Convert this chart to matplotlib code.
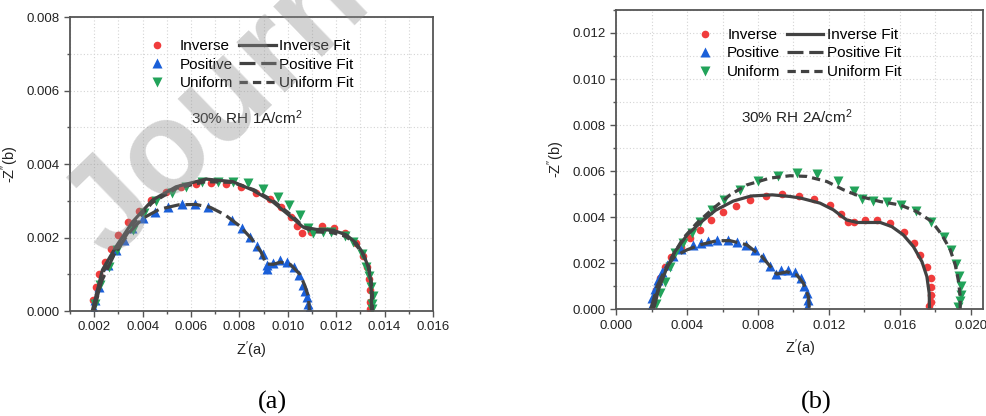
import matplotlib
matplotlib.use("Agg")
import matplotlib.pyplot as plt
from matplotlib.ticker import MultipleLocator, FormatStrFormatter

plt.rcParams["font.family"] = ["Liberation Sans", "DejaVu Sans"]
plt.rcParams["mathtext.fontset"] = "custom"
plt.rcParams["mathtext.rm"] = "Liberation Sans"
plt.rcParams["mathtext.it"] = "Liberation Sans:italic"

# ---- (a) 30% RH, 1 A/cm2 ----
inv_a_x = [0.00197, 0.00207, 0.00221, 0.00244, 0.00269, 0.00297, 0.00338, 0.00387,
           0.00435, 0.00497, 0.00559, 0.00621, 0.00683, 0.00745, 0.00807, 0.00869,
           0.00925, 0.00973, 0.01014, 0.01039, 0.01060, 0.01097, 0.01143, 0.01189,
           0.01237, 0.01281, 0.01311, 0.01329, 0.01336, 0.01339, 0.01341, 0.01341]
inv_a_y = [0.00031, 0.00065, 0.00102, 0.00134, 0.00170, 0.00206, 0.00243, 0.00273,
           0.00302, 0.00325, 0.00338, 0.00345, 0.00347, 0.00345, 0.00338, 0.00322,
           0.00304, 0.00282, 0.00256, 0.00231, 0.00213, 0.00216, 0.00231, 0.00227,
           0.00212, 0.00185, 0.00150, 0.00120, 0.00088, 0.00056, 0.00025, 0.00006]

pos_a_x = [0.00198, 0.00205, 0.00221, 0.00255, 0.00290, 0.00324, 0.00355, 0.00400,
           0.00450, 0.00505, 0.00561, 0.00617, 0.00671, 0.00768, 0.00810, 0.00845,
           0.00874, 0.00897, 0.00913, 0.00916, 0.00938, 0.00966, 0.00996, 0.01024,
           0.01046, 0.01063, 0.01072, 0.01079, 0.01083, 0.01086]
pos_a_y = [0.00005, 0.00030, 0.00066, 0.00125, 0.00167, 0.00193, 0.00225, 0.00252,
           0.00270, 0.00284, 0.00290, 0.00290, 0.00283, 0.00248, 0.00226, 0.00202,
           0.00176, 0.00154, 0.00125, 0.00113, 0.00130, 0.00139, 0.00134, 0.00121,
           0.00098, 0.00071, 0.00055, 0.00039, 0.00020, 0.00005]

uni_a_x = [0.00205, 0.00225, 0.00260, 0.00296, 0.00360, 0.00407, 0.00455, 0.00520,
           0.00580, 0.00645, 0.00710, 0.00773, 0.00835, 0.00897, 0.00959, 0.01005,
           0.01049, 0.01083, 0.01104, 0.01146, 0.01180, 0.01235, 0.01270, 0.01305,
           0.01322, 0.01336, 0.01346, 0.01353, 0.01350, 0.01350]
uni_a_y = [0.00020, 0.00070, 0.00120, 0.00166, 0.00220, 0.00268, 0.00298, 0.00322,
           0.00338, 0.00350, 0.00352, 0.00352, 0.00348, 0.00332, 0.00311, 0.00288,
           0.00261, 0.00225, 0.00211, 0.00215, 0.00215, 0.00205, 0.00188, 0.00155,
           0.00120, 0.00095, 0.00066, 0.00040, 0.00018, 0.00005]

inv_fit_a_x = [0.00193, 0.00234, 0.00290, 0.00359, 0.00441, 0.00538, 0.00662, 0.00773,
               0.00855, 0.00938, 0.01021, 0.01062, 0.01118, 0.01187, 0.01242, 0.01284,
               0.01311, 0.01332, 0.01342, 0.01346, 0.01346]
inv_fit_a_y = [0.00003, 0.00112, 0.00175, 0.00243, 0.00302, 0.00338, 0.00359, 0.00352,
               0.00329, 0.00297, 0.00252, 0.00229, 0.00222, 0.00220, 0.00207, 0.00184,
               0.00157, 0.00121, 0.00085, 0.00049, 0.00000]

pos_fit_a_x = [0.00198, 0.00230, 0.00280, 0.00340, 0.00400, 0.00470, 0.00550, 0.00620,
               0.00680, 0.00740, 0.00800, 0.00850, 0.00890, 0.00910, 0.00940, 0.00970,
               0.01010, 0.01050, 0.01070, 0.01085, 0.01090]
pos_fit_a_y = [0.00000, 0.00080, 0.00150, 0.00210, 0.00252, 0.00277, 0.00289, 0.00290,
               0.00282, 0.00262, 0.00232, 0.00197, 0.00160, 0.00128, 0.00127, 0.00133,
               0.00127, 0.00100, 0.00070, 0.00040, 0.00000]

uni_fit_a_x = [0.00198, 0.00240, 0.00300, 0.00360, 0.00440, 0.00540, 0.00660, 0.00770,
               0.00860, 0.00940, 0.01020, 0.01070, 0.01120, 0.01180, 0.01240, 0.01280,
               0.01310, 0.01335, 0.01345, 0.01350, 0.01350]
uni_fit_a_y = [0.00000, 0.00110, 0.00172, 0.00235, 0.00295, 0.00334, 0.00352, 0.00350,
               0.00330, 0.00300, 0.00258, 0.00226, 0.00215, 0.00214, 0.00203, 0.00182,
               0.00155, 0.00120, 0.00080, 0.00040, 0.00000]

# ---- (b) 30% RH, 2 A/cm2 ----
inv_b_x = [0.00211, 0.00226, 0.00248, 0.00273, 0.00310, 0.00367, 0.00418, 0.00471,
           0.00536, 0.00602, 0.00678, 0.00757, 0.00843, 0.00937, 0.01031, 0.01114,
           0.01205, 0.01270, 0.01307, 0.01340, 0.01403, 0.01470, 0.01545, 0.01622,
           0.01678, 0.01716, 0.01752, 0.01775, 0.01777, 0.01778, 0.01774, 0.01764]
inv_b_y = [0.00033, 0.00084, 0.00135, 0.00185, 0.00229, 0.00272, 0.00309, 0.00345,
           0.00388, 0.00422, 0.00449, 0.00475, 0.00490, 0.00500, 0.00494, 0.00480,
           0.00454, 0.00412, 0.00381, 0.00378, 0.00388, 0.00388, 0.00374, 0.00336,
           0.00287, 0.00236, 0.00182, 0.00135, 0.00095, 0.00061, 0.00033, 0.00015]

pos_b_x = [0.00198, 0.00203, 0.00216, 0.00235, 0.00260, 0.00286, 0.00320, 0.00367,
           0.00430, 0.00480, 0.00520, 0.00570, 0.00630, 0.00680, 0.00730, 0.00780,
           0.00830, 0.00870, 0.00900, 0.00930, 0.00970, 0.01010, 0.01040, 0.01060,
           0.01075, 0.01080, 0.01075]
pos_b_y = [0.00012, 0.00048, 0.00087, 0.00128, 0.00164, 0.00193, 0.00232, 0.00262,
           0.00278, 0.00290, 0.00295, 0.00300, 0.00299, 0.00292, 0.00278, 0.00258,
           0.00226, 0.00188, 0.00155, 0.00172, 0.00172, 0.00160, 0.00135, 0.00099,
           0.00070, 0.00041, 0.00012]

uni_b_x = [0.00226, 0.00245, 0.00273, 0.00301, 0.00329, 0.00376, 0.00429, 0.00473,
           0.00539, 0.00608, 0.00700, 0.00800, 0.00913, 0.01020, 0.01135, 0.01252,
           0.01340, 0.01389, 0.01449, 0.01528, 0.01609, 0.01694, 0.01775, 0.01848,
           0.01890, 0.01916, 0.01936, 0.01944, 0.01946, 0.01938, 0.01928]
uni_b_y = [0.00023, 0.00070, 0.00120, 0.00185, 0.00243, 0.00287, 0.00330, 0.00381,
           0.00432, 0.00475, 0.00519, 0.00555, 0.00581, 0.00591, 0.00586, 0.00556,
           0.00512, 0.00477, 0.00469, 0.00464, 0.00453, 0.00426, 0.00378, 0.00316,
           0.00258, 0.00196, 0.00143, 0.00100, 0.00064, 0.00034, 0.00009]

inv_fit_b_x = [0.00210, 0.00240, 0.00280, 0.00330, 0.00400, 0.00480, 0.00560, 0.00660,
               0.00760, 0.00880, 0.00980, 0.01040, 0.01150, 0.01225, 0.01300, 0.01360,
               0.01490, 0.01555, 0.01620, 0.01677, 0.01725, 0.01753, 0.01766, 0.01768]
inv_fit_b_y = [0.00000, 0.00090, 0.00170, 0.00250, 0.00323, 0.00380, 0.00430, 0.00470,
               0.00492, 0.00497, 0.00490, 0.00483, 0.00461, 0.00432, 0.00388, 0.00377,
               0.00377, 0.00359, 0.00323, 0.00272, 0.00207, 0.00142, 0.00070, 0.00000]

pos_fit_b_x = [0.00195, 0.00230, 0.00280, 0.00330, 0.00398, 0.00473, 0.00567, 0.00642,
               0.00736, 0.00821, 0.00878, 0.00906, 0.00962, 0.01019, 0.01056, 0.01084,
               0.01090]
pos_fit_b_y = [0.00000, 0.00100, 0.00180, 0.00230, 0.00258, 0.00280, 0.00298, 0.00298,
               0.00280, 0.00229, 0.00178, 0.00153, 0.00163, 0.00149, 0.00113, 0.00055,
               0.00000]

uni_fit_b_x = [0.00200, 0.00247, 0.00303, 0.00378, 0.00454, 0.00548, 0.00642, 0.00736,
               0.00868, 0.00981, 0.01075, 0.01188, 0.01282, 0.01376, 0.01489, 0.01602,
               0.01696, 0.01781, 0.01838, 0.01885, 0.01913, 0.01932, 0.01941, 0.01941]
uni_fit_b_y = [0.00000, 0.00113, 0.00214, 0.00309, 0.00374, 0.00439, 0.00497, 0.00540,
               0.00570, 0.00580, 0.00577, 0.00555, 0.00519, 0.00490, 0.00468, 0.00453,
               0.00424, 0.00381, 0.00323, 0.00258, 0.00193, 0.00120, 0.00055, 0.00000]

RED = "#F03C3C"
BLUE = "#1A5FD8"
GREEN = "#22A35A"
FIT = "#424242"
AXC = "#555555"


def style_axes(ax, xlim, ylim, xmaj, ymaj):
    ax.set_xlim(*xlim)
    ax.set_ylim(*ylim)
    ax.xaxis.set_major_locator(MultipleLocator(xmaj))
    ax.xaxis.set_minor_locator(MultipleLocator(xmaj / 2))
    ax.yaxis.set_major_locator(MultipleLocator(ymaj))
    ax.yaxis.set_minor_locator(MultipleLocator(ymaj / 2))
    ax.xaxis.set_major_formatter(FormatStrFormatter("%.3f"))
    ax.yaxis.set_major_formatter(FormatStrFormatter("%.3f"))
    ax.tick_params(which="both", direction="out", color=AXC, width=1.0,
                   labelsize=9.5, labelcolor="#222222", top=False, right=False)
    ax.tick_params(which="major", length=4)
    ax.tick_params(which="minor", length=2.5)
    for sp in ax.spines.values():
        sp.set_color(AXC)
        sp.set_linewidth(1.3)
    ax.grid(True, which="both", ls=(0, (1, 2)), color="#d4d4d4", lw=0.8)
    ax.set_axisbelow(True)
    ax.set_xlabel("Z$^{\\prime}$(a)", fontsize=10.5, labelpad=4, color="#222222")
    ax.set_ylabel("-Z$^{\\prime\\prime}$(b)", fontsize=10.5, labelpad=4, color="#222222")


def draw_panel(ax, inv, pos, uni, inv_fit, pos_fit, uni_fit):
    h1, = ax.plot(*inv, ls="none", marker="o", ms=5.5, color=RED, mec="none", label="Inverse")
    h2, = ax.plot(*pos, ls="none", marker="^", ms=6.5, color=BLUE, mec="none", label="Positive")
    h3, = ax.plot(*uni, ls="none", marker="v", ms=6.5, color=GREEN, mec="none", label="Uniform")
    h4, = ax.plot(*inv_fit, color=FIT, lw=2.3, label="Inverse Fit")
    h5, = ax.plot(*pos_fit, color=FIT, lw=2.3, ls=(0, (5, 1.8)), label="Positive Fit")
    h6, = ax.plot(*uni_fit, color=FIT, lw=2.3, ls=(0, (2.6, 1.6)), label="Uniform Fit")
    return [h1, h2, h3, h4, h5, h6]


fig = plt.figure(figsize=(9.86, 4.16), dpi=100)
ax1 = fig.add_axes([0.0710, 0.2524, 0.3681, 0.7067])
ax2 = fig.add_axes([0.6251, 0.2565, 0.3719, 0.7196])

handles_a = draw_panel(ax1, (inv_a_x, inv_a_y), (pos_a_x, pos_a_y), (uni_a_x, uni_a_y),
                       (inv_fit_a_x, inv_fit_a_y), (pos_fit_a_x, pos_fit_a_y),
                       (uni_fit_a_x, uni_fit_a_y))
handles_b = draw_panel(ax2, (inv_b_x, inv_b_y), (pos_b_x, pos_b_y), (uni_b_x, uni_b_y),
                       (inv_fit_b_x, inv_fit_b_y), (pos_fit_b_x, pos_fit_b_y),
                       (uni_fit_b_x, uni_fit_b_y))

style_axes(ax1, (0.001, 0.016), (0.0, 0.008), 0.002, 0.002)
style_axes(ax2, (0.0, 0.0207), (0.0, 0.013), 0.004, 0.002)

for ax, hs, anchor in ((ax1, handles_a, (0.19, 0.925)), (ax2, handles_b, (0.192, 0.94))):
    ax.legend(handles=hs, ncol=2, loc="upper left", bbox_to_anchor=anchor,
              frameon=False, fontsize=11, handlelength=2.4, handletextpad=0.25,
              columnspacing=0.4, labelspacing=0.3, borderpad=0, borderaxespad=0)

ax1.text(0.0083, 0.00525, "30% RH 1A/cm$^{2}$", ha="center", va="center",
         fontsize=11, color="#222222")
ax2.text(0.0102, 0.00836, "30% RH 2A/cm$^{2}$", ha="center", va="center",
         fontsize=11, color="#222222")

fig.text(272 / 986, 1 - 402 / 416, "(a)", family="Liberation Serif", fontsize=19,
         ha="center", va="center")
fig.text(816 / 986, 1 - 402 / 416, "(b)", family="Liberation Serif", fontsize=19,
         ha="center", va="center")

# faint diagonal watermark over the left panel
fig.text(110 / 986, 1 - 262 / 416, "Journal Pre-proof", fontsize=95, weight="bold",
         color="#8c8c8c", alpha=0.38, rotation=44, rotation_mode="anchor",
         ha="left", va="baseline", zorder=10)

fig.savefig("out.png", dpi=100)
plt.close(fig)
